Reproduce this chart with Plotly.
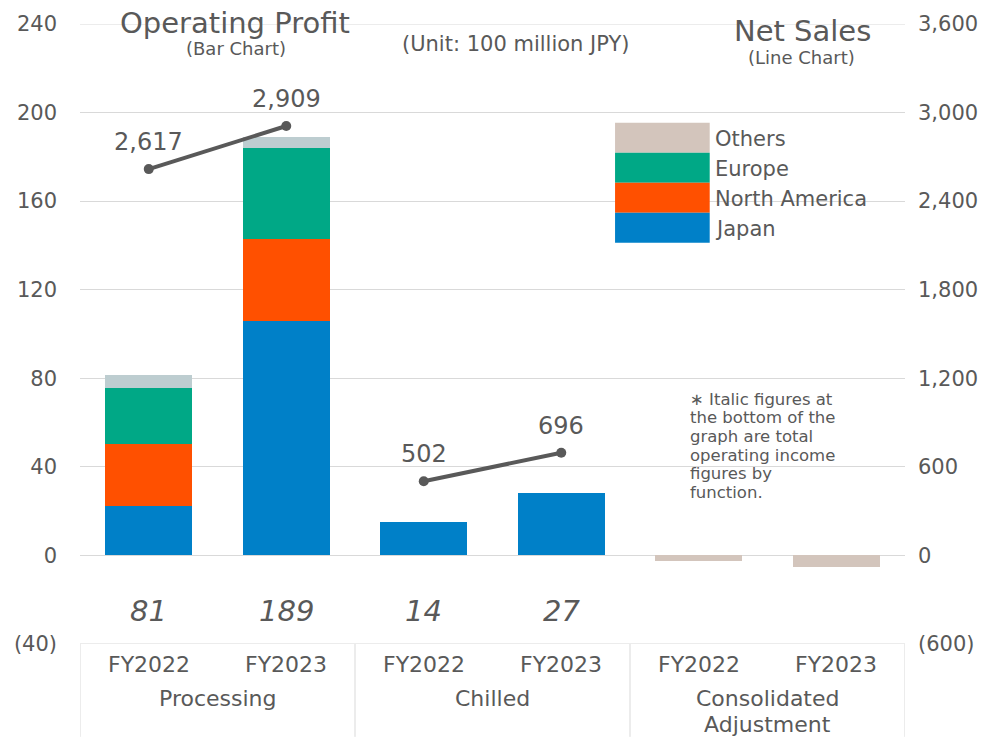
import plotly.graph_objects as go

# ---------------- data ----------------
segments = ["Processing", "Processing", "Chilled", "Chilled",
            "Consolidated Adjustment", "Consolidated Adjustment"]
years = ["FY2022", "FY2023", "FY2022", "FY2023", "FY2022", "FY2023"]
japan = [22.5, 106, 15, 28, None, None]
north_america = [28, 37, None, None, None, None]
europe = [25, 41, None, None, None, None]
others = [6, 5, None, None, -2.5, -5]
op_totals = [81, 189, 14, 27, None, None]
net_sales = [2617, 2909, 502, 696, None, None]
group_labels = ["Processing", "Chilled", "Consolidated<br>Adjustment"]
left_ticks = [-40, 0, 40, 80, 120, 160, 200, 240]
right_ticks = [-600, 0, 600, 1200, 1800, 2400, 3000, 3600]
note_lines = ["∗ Italic figures at", "the bottom of the", "graph are total",
              "operating income", "figures by", "function."]

# ---------------- style ----------------
C_JP = "#0080c8"
C_NA = "#ff5000"
C_EU = "#00a886"
C_OT = "#d3c5bc"
C_OT_PROC = "#bdcdd0"
TXT = "#595959"
GRID = "#d9d9d9"
FONT = "DejaVu Sans"

W, H = 990, 737
L, R, T, B = 80, 82, 23, 93
PW, PH = W - L - R, H - T - B


def px(x):
    return (x - L) / PW


def py(y):
    return (H - B - y) / PH


def f(size):
    return dict(size=size, color=TXT, family=FONT)


def note(x, y, text, size, xref="paper", yref="paper", xanchor="center", **kw):
    d = dict(x=x, y=y, xref=xref, yref=yref, text=text, showarrow=False,
             xanchor=xanchor, yanchor="middle", font=f(size))
    d.update(kw)
    return d


xs = list(range(len(years)))
fig = go.Figure()

bar_kw = dict(width=0.63, marker_line_width=0, hoverinfo="skip", showlegend=False)
fig.add_bar(x=xs, y=japan, marker_color=C_JP, name="Japan", **bar_kw)
fig.add_bar(x=xs, y=north_america, marker_color=C_NA, name="North America", **bar_kw)
fig.add_bar(x=xs, y=europe, marker_color=C_EU, name="Europe", **bar_kw)
ot_colors = [C_OT_PROC if s == "Processing" else C_OT for s in segments]
fig.add_bar(x=xs, y=others, marker_color=ot_colors, name="Others", **bar_kw)

ann = []
# net sales lines, one per segment
for seg in dict.fromkeys(segments):
    idx = [i for i, s in enumerate(segments) if s == seg and net_sales[i] is not None]
    if not idx:
        continue
    fig.add_scatter(
        x=[xs[i] for i in idx], y=[net_sales[i] for i in idx], yaxis="y2",
        mode="lines+markers",
        line=dict(color=TXT, width=4), marker=dict(color=TXT, size=10),
        showlegend=False, hoverinfo="skip", cliponaxis=False,
    )
    for i in idx:
        ann.append(note(xs[i], net_sales[i], f"{net_sales[i]:,}", 24,
                        xref="x", yref="y2", yshift=27))

# italic totals
for i, v in enumerate(op_totals):
    if v is None:
        continue
    ann.append(note(xs[i], -25, f"<i>{v}</i>", 29, xref="x", yref="y"))
# year labels
for i, yr in enumerate(years):
    ann.append(note(xs[i], py(665), yr, 22, xref="x"))
# group labels
groups = list(dict.fromkeys(segments))
for g, lab in zip(groups, group_labels):
    idx = [i for i, s in enumerate(segments) if s == g]
    cx = sum(idx) / len(idx)
    for k, line in enumerate(lab.split("<br>")):
        ann.append(note(cx, py(699 + 26 * k), line, 22, xref="x"))

# titles
ann += [
    note(px(236), py(22), "Operating Profit", 29),
    note(px(237), py(48), "(Bar Chart)", 18),
    note(px(518), py(43), "(Unit: 100 million JPY)", 21),
    note(px(805), py(30), "Net Sales", 29),
    note(px(804), py(57), "(Line Chart)", 18),
]
for k, line in enumerate(note_lines):
    ann.append(note(px(690), py(399 + 18.6 * k), line, 16.5, xanchor="left"))

shapes = []
# legend
leg_items = [("Others", C_OT), ("Europe", C_EU), ("North America", C_NA), ("Japan", C_JP)]
for k, (name, col) in enumerate(leg_items):
    y0 = 122 + 30 * k
    shapes.append(dict(type="rect", xref="paper", yref="paper", x0=px(617), x1=px(712),
                       y0=py(y0 + 30), y1=py(y0), fillcolor=col, line_width=0))
    ann.append(note(px(715), py(y0 + 16), name, 21, xanchor="left"))

# category box: frame gridlines and dividers
for yv in (left_ticks[0], left_ticks[-1]):
    shapes.append(dict(type="line", xref="x", yref="y", x0=-0.5, x1=5.5, y0=yv, y1=yv,
                       line=dict(color=GRID, width=1), layer="below"))
for b in [-0.5, 1.5, 3.5, 5.5]:
    shapes.append(dict(type="line", xref="x", yref="paper", x0=b, x1=b, y0=0, y1=py(H),
                       line=dict(color=GRID, width=1)))

fig.update_layout(
    width=W, height=H, margin=dict(l=L, r=R, t=T, b=B),
    paper_bgcolor="white", plot_bgcolor="white",
    barmode="relative", bargap=0,
    font=dict(family=FONT, color=TXT),
    xaxis=dict(range=[-0.5, 5.5], showticklabels=False, showgrid=False, zeroline=False,
               fixedrange=True),
    yaxis=dict(range=[-40, 240], tickvals=left_ticks,
               ticktext=[f"({-v})" if v < 0 else f"{v}" for v in left_ticks],
               showgrid=True, gridcolor=GRID, gridwidth=1, zeroline=False,
               tickfont=f(21), ticklabelstandoff=22),
    yaxis2=dict(range=[-600, 3600], overlaying="y", side="right", tickvals=right_ticks,
                ticktext=[f"({-v:,})" if v < 0 else f"{v:,}" for v in right_ticks],
                showgrid=False, zeroline=False,
                tickfont=f(21), ticklabelstandoff=12),
    annotations=ann, shapes=shapes,
)

fig.write_html("out.html", config={"displayModeBar": False},
               post_script="document.body.style.margin='0';document.body.style.overflow='hidden';")
